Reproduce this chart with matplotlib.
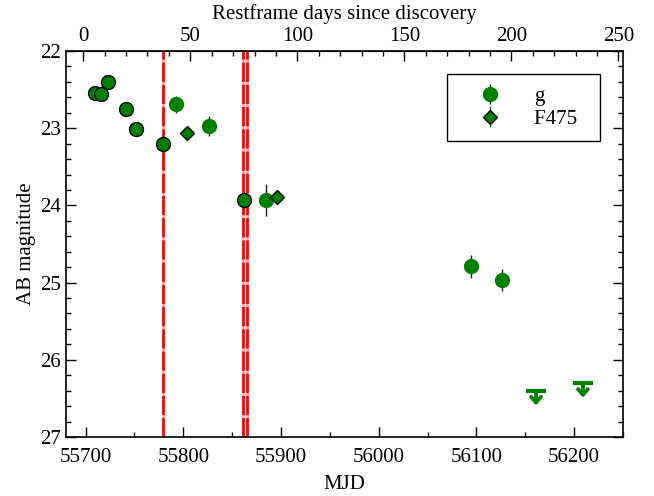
import numpy as np
import matplotlib
matplotlib.use("Agg")
import matplotlib.pyplot as plt
from matplotlib.ticker import MultipleLocator, FixedLocator

# ---- data ----
# g-band points drawn with black edge (no visible error bars)
g1_mjd = [55709.7, 55715.5, 55722.7, 55741.8, 55751.7, 55779.3, 55862.0]
g1_mag = [22.55, 22.56, 22.40, 22.75, 23.01, 23.21, 23.93]

# g-band points with error bars
g2_mjd = [55793.0, 55826.0, 55885.0, 56094.4, 56126.4]
g2_mag = [22.69, 22.97, 23.93, 24.79, 24.97]
g2_err = [0.11, 0.13, 0.21, 0.15, 0.14]

# F475 points
f475_mjd = [55803.6, 55895.7]
f475_mag = [23.06, 23.89]
f475_err = [0.04, 0.04]

# g-band upper limits
lim_mjd = [56161.0, 56209.0]
lim_mag = [26.40, 26.30]

# vertical reference epochs
vlines_mjd = [55779.0, 55861.5, 55865.0]

# restframe axis
t0_mjd = 55697.7
one_plus_z = 2.19
top_major = [0, 50, 100, 150, 200, 250]
top_minor = list(range(0, 251, 10))

plt.rcParams['font.family'] = ['Liberation Serif', 'DejaVu Serif']

fig = plt.figure(figsize=(6.54, 4.96), dpi=100)
ax = fig.add_axes([66/654, 1-437/496, (623-66)/654, (437-51)/496])

green = '#008000'

for v in vlines_mjd:
    ax.axvline(v, color='red', lw=2.0, dashes=(7, 1), gapcolor='#ffaaaa', zorder=1)

ax.plot(g1_mjd, g1_mag, 'o', color=green, mec='black', mew=1.0, ms=10, zorder=3)
ax.errorbar(g2_mjd, g2_mag, yerr=g2_err, fmt='o', color=green, mec=green,
            ecolor='#222222', elinewidth=1.0, capsize=0, ms=10, zorder=3, label='g')
ax.errorbar(f475_mjd, f475_mag, yerr=f475_err, fmt='D', color=green, mec='black',
            mew=1.0, ecolor=green, elinewidth=1.0, capsize=0, ms=7, zorder=3,
            label='F475  ')

for x, m in zip(lim_mjd, lim_mag):
    ax.plot([x], [m], marker='_', color=green, ms=15, mew=3, zorder=3)
    ax.annotate('', xy=(x, m + 0.19), xytext=(x, m),
                arrowprops=dict(arrowstyle='->,head_width=0.35,head_length=0.4',
                                color=green, lw=2.8, shrinkA=0, shrinkB=0), zorder=3)

ax.set_xlim(55680, 56250)
ax.set_ylim(27, 22)

ax.xaxis.set_major_locator(MultipleLocator(100))
ax.xaxis.set_minor_locator(MultipleLocator(50))
ax.yaxis.set_major_locator(MultipleLocator(1))
ax.yaxis.set_minor_locator(MultipleLocator(0.2))
ax.tick_params(which='both', direction='in', top=False, right=True, labelsize=15)
ax.tick_params(which='major', length=7, width=1)
ax.tick_params(which='minor', length=3.5, width=1)
ax.tick_params(axis='x', pad=8)

ax.set_xlabel('MJD', fontsize=15, labelpad=6)
ax.set_ylabel('AB magnitude', fontsize=15, labelpad=3)

sec = ax.secondary_xaxis('top', functions=(lambda m: (m - t0_mjd) / one_plus_z,
                                           lambda d: d * one_plus_z + t0_mjd))
sec.xaxis.set_major_locator(FixedLocator(top_major))
sec.xaxis.set_minor_locator(FixedLocator(top_minor))
sec.tick_params(which='both', direction='in', labelsize=15)
sec.tick_params(which='major', length=7, width=1)
sec.tick_params(which='minor', length=3.5, width=1)
sec.set_xlabel('Restframe days since discovery', fontsize=15, labelpad=6)

for s in ax.spines.values():
    s.set_linewidth(1.2)

leg = ax.legend(loc='upper right', bbox_to_anchor=(0.959, 0.940), fontsize=15,
                frameon=True, fancybox=False, edgecolor='black', framealpha=1,
                borderpad=0.6, labelspacing=0.15, handlelength=3.0,
                handletextpad=0.6, borderaxespad=0)
leg.get_frame().set_linewidth(1.0)

fig.savefig('out.png', dpi=100)
